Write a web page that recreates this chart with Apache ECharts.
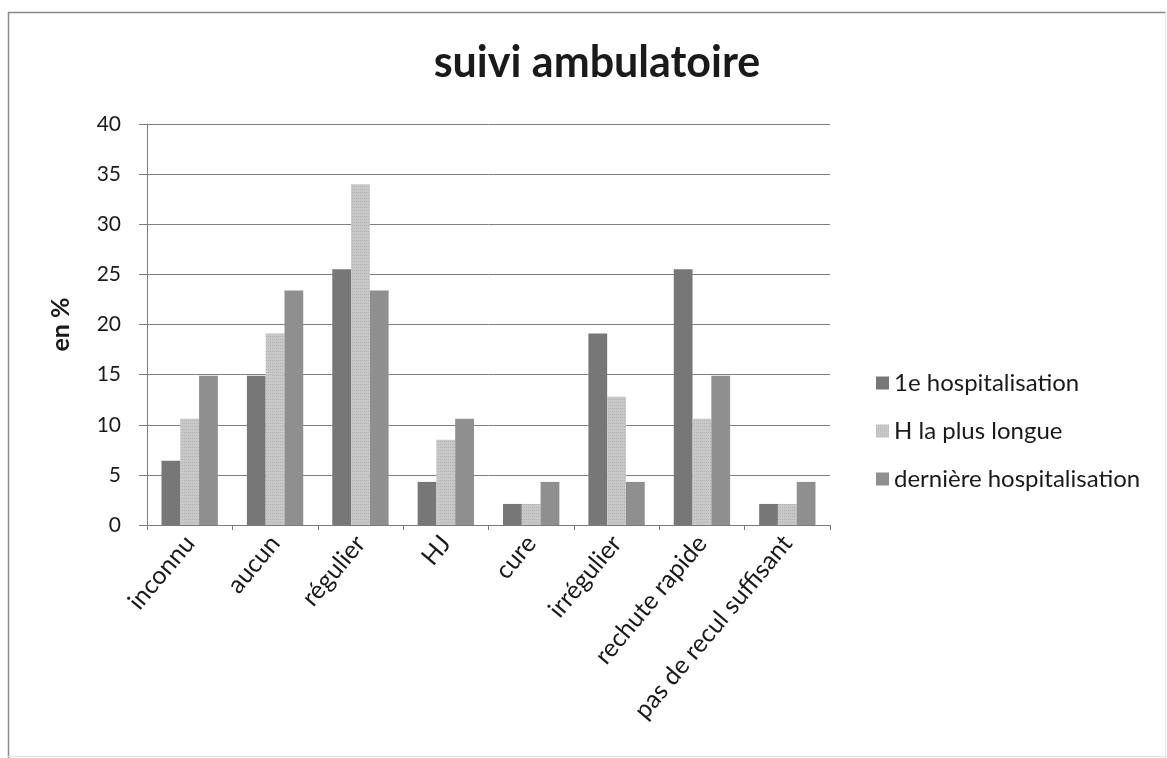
<!DOCTYPE html>
<html>
<head>
<meta charset="utf-8">
<script src="https://cdn.jsdelivr.net/npm/echarts@6/dist/echarts.min.js"></script>
<style>
  html, body { margin: 0; padding: 0; background: #ffffff; }
  #chart { width: 1167px; height: 758px; }
</style>
</head>
<body>
<div id="chart"></div>
<script>
// Types of outpatient follow-up, share of patients (%)
const categories = ['inconnu', 'aucun', 'régulier', 'HJ', 'cure', 'irrégulier', 'rechute rapide', 'pas de recul suffisant'];
const seriesNames = ['1e hospitalisation', 'H la plus longue', 'dernière hospitalisation'];
const premiereHosp = [6.4, 14.9, 25.5, 4.3, 2.1, 19.1, 25.5, 2.1];
const hPlusLongue = [10.6, 19.1, 34.0, 8.5, 2.1, 12.8, 10.6, 2.1];
const derniereHosp = [14.9, 23.4, 23.4, 10.6, 4.3, 4.3, 14.9, 4.3];
const yTicks = [0, 5, 10, 15, 20, 25, 30, 35, 40];

const FONT = 'Lato, "Open Sans", sans-serif';
const colors = ['#777777', '#c8c8c8', '#8f8f8f'];
const values = [premiereHosp, hPlusLongue, derniereHosp];
// fine dotted texture on the light series
const decals = [
  null,
  { symbol: 'rect', symbolSize: 1, dashArrayX: [1, 1], dashArrayY: [1, 2], color: 'rgba(140,140,140,0.35)', rotation: 0 },
  null
];

const chart = echarts.init(document.getElementById('chart'), null, { renderer: 'canvas' });

chart.setOption({
  backgroundColor: '#ffffff',
  animation: false,
  color: colors,
  title: {
    text: 'suivi ambulatoire',
    left: 592,
    textAlign: 'center',
    top: 37,
    textStyle: { fontFamily: FONT, fontSize: 43, fontWeight: 'bold', color: '#1a1a1a' }
  },
  graphic: [
    { type: 'line', shape: { x1: 8, y1: 12.5, x2: 1166, y2: 12.5 }, style: { stroke: '#8a8a8a', lineWidth: 1.5 }, silent: true },
    { type: 'line', shape: { x1: 8.5, y1: 12, x2: 8.5, y2: 758 }, style: { stroke: '#8a8a8a', lineWidth: 1.5 }, silent: true },
    { type: 'line', shape: { x1: 1165.5, y1: 12, x2: 1165.5, y2: 758 }, style: { stroke: '#e2e2e2', lineWidth: 1 }, silent: true },
    { type: 'line', shape: { x1: 8, y1: 756.5, x2: 1166, y2: 756.5 }, style: { stroke: '#e2e2e2', lineWidth: 1 }, silent: true }
  ],
  legend: {
    orient: 'vertical',
    left: 871,
    top: 366,
    itemWidth: 13,
    itemHeight: 13,
    itemGap: 24,
    icon: 'rect',
    textStyle: { fontFamily: FONT, fontSize: 24, lineHeight: 24, color: '#1a1a1a' },
    data: seriesNames
  },
  grid: { left: 147, right: 337, top: 124, bottom: 233, containLabel: false },
  xAxis: {
    type: 'category',
    data: categories,
    axisLine: { lineStyle: { color: '#7a7a7a', width: 1 } },
    axisTick: { show: true, length: 5, lineStyle: { color: '#7a7a7a' } },
    axisLabel: {
      rotate: 50,
      interval: 0,
      margin: 14,
      fontFamily: FONT,
      fontSize: 25,
      color: '#1a1a1a'
    }
  },
  yAxis: {
    type: 'value',
    min: yTicks[0],
    max: yTicks[yTicks.length - 1],
    interval: yTicks[1] - yTicks[0],
    name: 'en %',
    nameLocation: 'middle',
    nameGap: 74,
    nameRotate: 90,
    nameTextStyle: { fontFamily: FONT, fontSize: 25, fontWeight: 'bold', color: '#1a1a1a' },
    axisLine: { show: true, lineStyle: { color: '#7a7a7a', width: 1 } },
    axisTick: { show: true, length: 8, lineStyle: { color: '#7a7a7a' } },
    axisLabel: { fontFamily: FONT, fontSize: 21, color: '#1a1a1a', margin: 26 },
    splitLine: { show: true, lineStyle: { color: '#7f7f7f', width: 1 } }
  },
  series: seriesNames.map((name, i) => ({
    name: name,
    type: 'bar',
    data: values[i],
    barGap: '0%',
    barCategoryGap: '34%',
    itemStyle: decals[i] ? { color: colors[i], decal: decals[i] } : { color: colors[i] }
  }))
});
</script>
</body>
</html>
